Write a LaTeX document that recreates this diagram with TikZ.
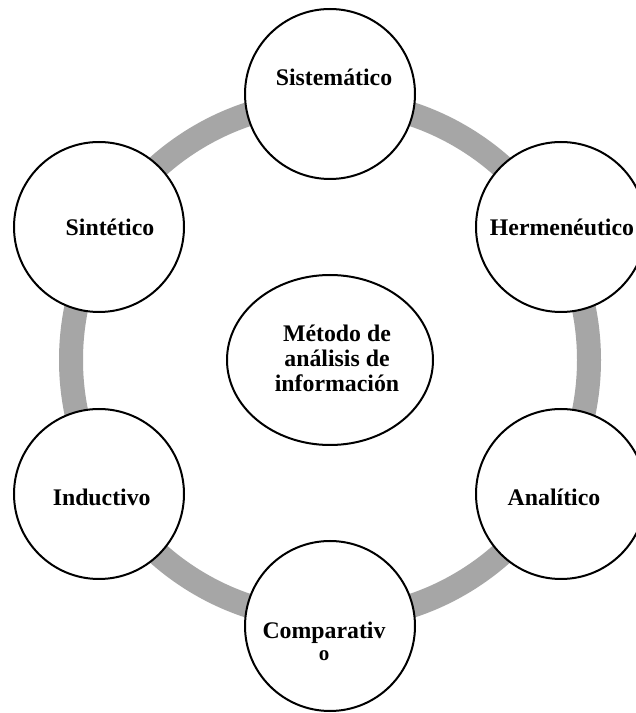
\documentclass[tikz,border=0pt]{standalone}
\usepackage{fontspec}
\setmainfont{Liberation Serif}
\usetikzlibrary{shapes.geometric}
\definecolor{ringgray}{RGB}{166,166,166}
\tikzset{
  methodcircle/.style={circle, draw=black, line width=2pt, fill=white, minimum size=170pt, inner sep=0pt},
  hubellipse/.style={ellipse, draw=black, line width=2pt, fill=white, minimum width=206pt, minimum height=170pt, inner sep=0pt},
  lbl/.style={font=\fontsize{23.8}{25.3}\selectfont\bfseries, inner sep=0pt, anchor=base},
  ringpath/.style={draw=ringgray, line width=24pt}
}
\begin{document}
\begin{tikzpicture}[x=1pt,y=1pt]
\clip (0,0) rectangle (636,713);
\fill[white] (0,0) rectangle (636,713);
\coordinate (hubc) at (330,353);
\draw[ringpath] (hubc) circle (259);
\node[methodcircle] (sis) at (330,619) {};
\node[methodcircle] (her) at (561,486) {};
\node[methodcircle] (ana) at (561,219) {};
\node[methodcircle] (com) at (330,87) {};
\node[methodcircle] (ind) at (99,219) {};
\node[methodcircle] (sin) at (99,486) {};
\node[hubellipse] (hub) at (hubc) {};
\node[lbl] (tsis) at (334,627.3) {Sistemático};
\node[lbl] (tsin) at (110,477.3) {Sintético};
\node[lbl] (ther) at (562,477.3) {Hermenéutico};
\node[lbl] (tind) at (101.7,207.3) {Inductivo};
\node[lbl] (tana) at (554,207.3) {Analítico};
\node[lbl] (tcom) at (324,74) {\begin{tabular}[t]{@{}c@{}}Comparativ\\[-4pt]{\fontsize{21}{21}\selectfont o}\end{tabular}};
\node[lbl] (thub) at (337,321.3) {\begin{tabular}[b]{@{}c@{}}Método de\\análisis de\\información\end{tabular}};
\end{tikzpicture}
\end{document}
